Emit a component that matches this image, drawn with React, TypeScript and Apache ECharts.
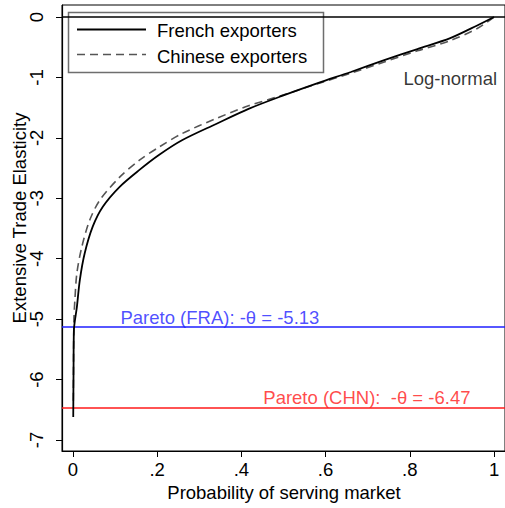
import React, { useEffect, useRef } from "react";
import * as echarts from "echarts";

const FONT = '"Liberation Sans", Arial, Helvetica, sans-serif';
const FS = 18.5;

// Probability of serving market (x) and extensive elasticity (y)
const frenchX = [0.0008, 0.0015, 0.0024, 0.0094, 0.0165, 0.028, 0.047, 0.071, 0.111, 0.158, 0.205, 0.259, 0.34, 0.417, 0.495, 0.583, 0.66, 0.741, 0.818, 0.896, 0.96, 1.0];
const frenchY = [-6.62, -5.85, -5.18, -4.8, -4.35, -3.91, -3.47, -3.14, -2.81, -2.53, -2.28, -2.04, -1.77, -1.52, -1.31, -1.09, -0.91, -0.71, -0.53, -0.35, -0.14, 0];
const chineseX = [0.001, 0.0024, 0.0047, 0.0094, 0.021, 0.04, 0.064, 0.111, 0.158, 0.205, 0.259, 0.34, 0.417, 0.495, 0.583, 0.66, 0.741, 0.818, 0.896, 0.96, 1.0];
const chineseY = [-6.35, -5.01, -4.68, -4.24, -3.81, -3.36, -3.03, -2.65, -2.37, -2.15, -1.93, -1.68, -1.47, -1.3, -1.1, -0.93, -0.74, -0.56, -0.39, -0.19, 0];

const paretoFRA = -5.13;
const paretoCHN = -6.47;
const xTicks = [0, 0.2, 0.4, 0.6, 0.8, 1];
const xTickLabels = ["0", ".2", ".4", ".6", ".8", "1"];
const yTicks = [0, -1, -2, -3, -4, -5, -6, -7];

const X_MIN = -0.0259;
const X_MAX = 1.026;
const Y_MIN = -7.182;
const Y_MAX = 0.1986;

export default function App() {
  const ref = useRef<HTMLDivElement>(null);
  useEffect(() => {
    if (!ref.current) return;
    const chart = echarts.init(ref.current, undefined, { renderer: "svg" });
    const pair = (xs: number[], ys: number[]) => xs.map((x, i) => [x, ys[i]]);
    chart.setOption({
      animation: false,
      textStyle: { fontFamily: FONT },
      grid: {
        left: 62,
        top: 5,
        right: -3,
        bottom: 57,
        show: true,
        borderColor: "#000",
        borderWidth: 1,
        backgroundColor: "transparent",
      },
      xAxis: {
        type: "value",
        min: X_MIN,
        max: X_MAX,
        splitLine: { show: false },
        axisLine: { show: true, onZero: false, lineStyle: { color: "#000", width: 1.2 } },
        axisTick: { show: true, length: 6, lineStyle: { color: "#000" }, customValues: xTicks },
        axisLabel: {
          customValues: xTicks,
          formatter: (v: number) => {
            const i = xTicks.findIndex((t) => Math.abs(t - v) < 1e-6);
            return i >= 0 ? xTickLabels[i] : "";
          },
          color: "#000",
          fontSize: FS,
          fontFamily: FONT,
          margin: 9,
        },
      },
      yAxis: {
        type: "value",
        min: Y_MIN,
        max: Y_MAX,
        splitLine: { show: false },
        axisLine: { show: true, onZero: false, lineStyle: { color: "#000", width: 1.2 } },
        axisTick: { show: true, length: 6, lineStyle: { color: "#000" }, customValues: yTicks },
        axisLabel: {
          customValues: yTicks,
          rotate: 90,
          color: "#000",
          fontSize: FS,
          fontFamily: FONT,
          margin: 16,
          formatter: (v: number) => String(Math.round(v)),
        },
      },
      series: [
        {
          type: "line",
          data: [[X_MIN, 0], [X_MAX, 0]],
          showSymbol: false,
          lineStyle: { color: "#000", width: 1.5 },
          z: 1,
        },
        {
          type: "line",
          data: [[X_MIN, paretoFRA], [X_MAX, paretoFRA]],
          showSymbol: false,
          lineStyle: { color: "#1f1fff", width: 1.5 },
          z: 1,
        },
        {
          type: "line",
          data: [[X_MIN, paretoCHN], [X_MAX, paretoCHN]],
          showSymbol: false,
          lineStyle: { color: "#ff1a1a", width: 1.5 },
          z: 1,
        },
        {
          name: "Chinese exporters",
          type: "line",
          data: pair(chineseX, chineseY),
          showSymbol: false,
          smooth: 0.3,
          lineStyle: { color: "#555", width: 1.6, type: [8, 5] },
          z: 2,
        },
        {
          name: "French exporters",
          type: "line",
          data: pair(frenchX, frenchY),
          showSymbol: false,
          smooth: 0.3,
          lineStyle: { color: "#000", width: 1.8 },
          z: 3,
        },
        {
          type: "scatter",
          symbolSize: 0,
          silent: true,
          data: [
            { value: [0.349, paretoFRA], label: { formatter: "Pareto (FRA): -θ = -5.13", color: "#1f1fff" } },
            { value: [0.698, paretoCHN], label: { formatter: "Pareto (CHN):  -θ = -6.47", color: "#ff1a1a" } },
            { value: [0.896, -1.01], label: { formatter: "Log-normal", color: "#000", offset: [0, 0] } },
          ],
          label: {
            show: true,
            position: "inside",
            offset: [0, -10],
            align: "center",
            verticalAlign: "middle",
            fontSize: FS,
            fontFamily: FONT,
          },
          z: 4,
        },
      ],
      graphic: [
        {
          type: "group",
          z: 100,
          children: [
            {
              type: "rect",
              shape: { x: 68.5, y: 12.5, width: 255, height: 60 },
              style: { fill: "#fff", stroke: "#6e6e6e", lineWidth: 1.5 },
            },
            {
              type: "line",
              shape: { x1: 77, y1: 29.5, x2: 146, y2: 29.5 },
              style: { stroke: "#000", lineWidth: 1.8 },
            },
            {
              type: "line",
              shape: { x1: 77, y1: 54.5, x2: 146, y2: 54.5 },
              style: { stroke: "#555", lineWidth: 1.6, lineDash: [8, 5] },
            },
            {
              type: "text",
              x: 157,
              y: 30,
              style: { text: "French exporters", fill: "#000", font: `${FS}px ${FONT}`, verticalAlign: "middle", align: "left" },
            },
            {
              type: "text",
              x: 157,
              y: 56,
              style: { text: "Chinese exporters", fill: "#000", font: `${FS}px ${FONT}`, verticalAlign: "middle", align: "left" },
            },
          ],
        },
        {
          type: "text",
          x: 19,
          y: 218,
          rotation: Math.PI / 2,
          style: { text: "Extensive Trade Elasticity", fill: "#000", font: `${FS}px ${FONT}`, align: "center", verticalAlign: "middle" },
        },
        {
          type: "text",
          x: 284,
          y: 492,
          style: { text: "Probability of serving market", fill: "#000", font: `${FS}px ${FONT}`, align: "center", verticalAlign: "middle" },
        },
      ],
    });
    return () => chart.dispose();
  }, []);
  return <div ref={ref} style={{ width: 505, height: 508, position: "absolute", left: 0, top: 0, background: "#fff" }} />;
}
